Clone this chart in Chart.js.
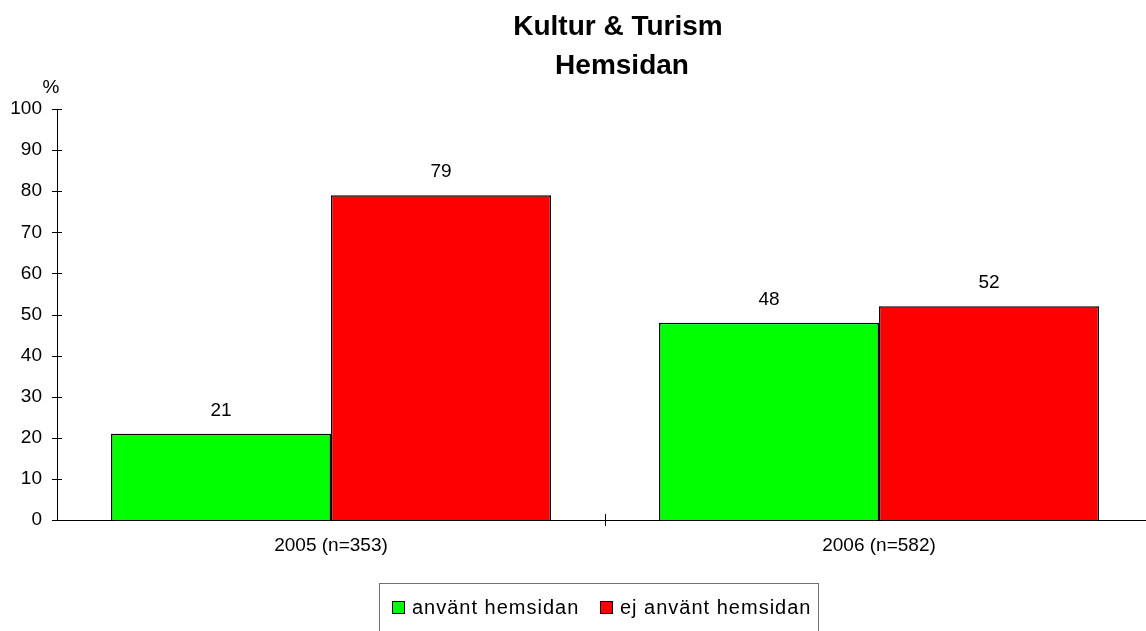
<!DOCTYPE html>
<html>
<head>
<meta charset="utf-8">
<script src="https://cdn.jsdelivr.net/npm/chart.js@4"></script>
<style>
    html, body { margin: 0; padding: 0; background: #FFFFFF; }
    #chart { display: block; }
</style>
</head>
<body>
<canvas id="chart" width="1146" height="631"></canvas>
<script>
// Data
const categories = ['2005 (n=353)', '2006 (n=582)'];
const seriesNames = ['använt hemsidan', 'ej använt hemsidan'];
const usedSite = [21, 48];
const notUsedSite = [79, 52];
const titleLines = ['Kultur & Turism', 'Hemsidan'];
const yUnit = '%';

const FONT = '"Liberation Sans", Arial, sans-serif';
// plot area runs a little past the right edge of the canvas, like the original
const OVERHANG = 7;

// Stretch the plot area past the canvas edge (layout padding can't go negative)
const overhangPlugin = {
    id: 'overhang',
    afterLayout(chart) {
        const x = chart.scales.x;
        chart.chartArea.right += OVERHANG;
        chart.chartArea.width += OVERHANG;
        x.right += OVERHANG;
        x.width += OVERHANG;
        x.configure();
    }
};

// Title, value labels, axis tick marks and legend
const decorPlugin = {
    id: 'decor',
    afterDatasetsDraw(chart) {
        const ctx = chart.ctx;
        const x = chart.scales.x;
        const y = chart.scales.y;
        const area = chart.chartArea;

        ctx.save();
        ctx.fillStyle = '#000000';

        // Title
        ctx.font = 'bold 28px ' + FONT;
        ctx.textAlign = 'center';
        ctx.textBaseline = 'alphabetic';
        ctx.fillText(titleLines[0], 618, 35);
        ctx.fillText(titleLines[1], 622, 74);

        // Unit above y axis
        ctx.font = '19px ' + FONT;
        ctx.fillText(yUnit, 51, 93);

        // Value labels above bars
        chart.data.datasets.forEach((ds, i) => {
            chart.getDatasetMeta(i).data.forEach((bar, j) => {
                ctx.fillText(String(ds.data[j]), bar.x, bar.y - 18);
            });
        });

        // Crossing tick marks on y axis
        ctx.strokeStyle = '#000000';
        ctx.lineWidth = 1;
        ctx.beginPath();
        y.ticks.forEach(t => {
            const py = Math.round(y.getPixelForValue(t.value)) + 0.5;
            ctx.moveTo(area.left - 5, py);
            ctx.lineTo(area.left + 5, py);
        });
        // Category separator tick on x axis
        const sx = Math.round((x.getPixelForValue(0) + x.getPixelForValue(1)) / 2) + 0.5;
        ctx.moveTo(sx, area.bottom - 6);
        ctx.lineTo(sx, area.bottom + 6);
        ctx.stroke();

        // Legend box
        ctx.strokeStyle = '#707070';
        ctx.strokeRect(379.5, 583.5, 439, 60);

        ctx.font = '20px ' + FONT;
        ctx.letterSpacing = '1px';
        ctx.textAlign = 'left';
        ctx.textBaseline = 'middle';
        const itemX = [392, 600];
        chart.data.datasets.forEach((ds, i) => {
            const bx = itemX[i];
            ctx.fillStyle = ds.backgroundColor;
            ctx.fillRect(bx, 601, 13, 13);
            ctx.strokeStyle = '#000000';
            ctx.strokeRect(bx + 0.5, 601.5, 12, 12);
            ctx.fillStyle = '#000000';
            ctx.fillText(ds.label, bx + 20, 608);
        });
        ctx.restore();
    }
};

new Chart(document.getElementById('chart'), {
    type: 'bar',
    data: {
        labels: categories,
        datasets: [{
            label: seriesNames[0],
            data: usedSite,
            backgroundColor: '#00FF00',
            borderColor: '#000000',
            borderWidth: 1.5,
            borderSkipped: 'start'
        }, {
            label: seriesNames[1],
            data: notUsedSite,
            backgroundColor: '#FF0000',
            borderColor: '#000000',
            borderWidth: 1.5,
            borderSkipped: 'start'
        }]
    },
    options: {
        responsive: false,
        animation: false,
        events: [],
        layout: {
            padding: { top: 109, left: 0, right: 0, bottom: 0 }
        },
        datasets: {
            bar: {
                categoryPercentage: 0.803,
                barPercentage: 1.0
            }
        },
        plugins: {
            legend: { display: false },
            title: { display: false },
            tooltip: { enabled: false }
        },
        scales: {
            x: {
                grid: { display: false, drawTicks: false, tickLength: 0 },
                border: { display: true, color: '#000000', width: 1 },
                ticks: {
                    color: '#000000',
                    padding: 14,
                    font: { family: FONT, size: 19 }
                },
                afterFit(scale) { scale.height = 111; }
            },
            y: {
                min: 0,
                max: 100,
                grid: { display: false, drawTicks: false, tickLength: 0 },
                border: { display: true, color: '#000000', width: 1 },
                ticks: {
                    stepSize: 10,
                    color: '#000000',
                    padding: 15,
                    font: { family: FONT, size: 19 }
                },
                afterFit(scale) { scale.width = 57; }
            }
        }
    },
    plugins: [overhangPlugin, decorPlugin]
});
</script>
</body>
</html>
